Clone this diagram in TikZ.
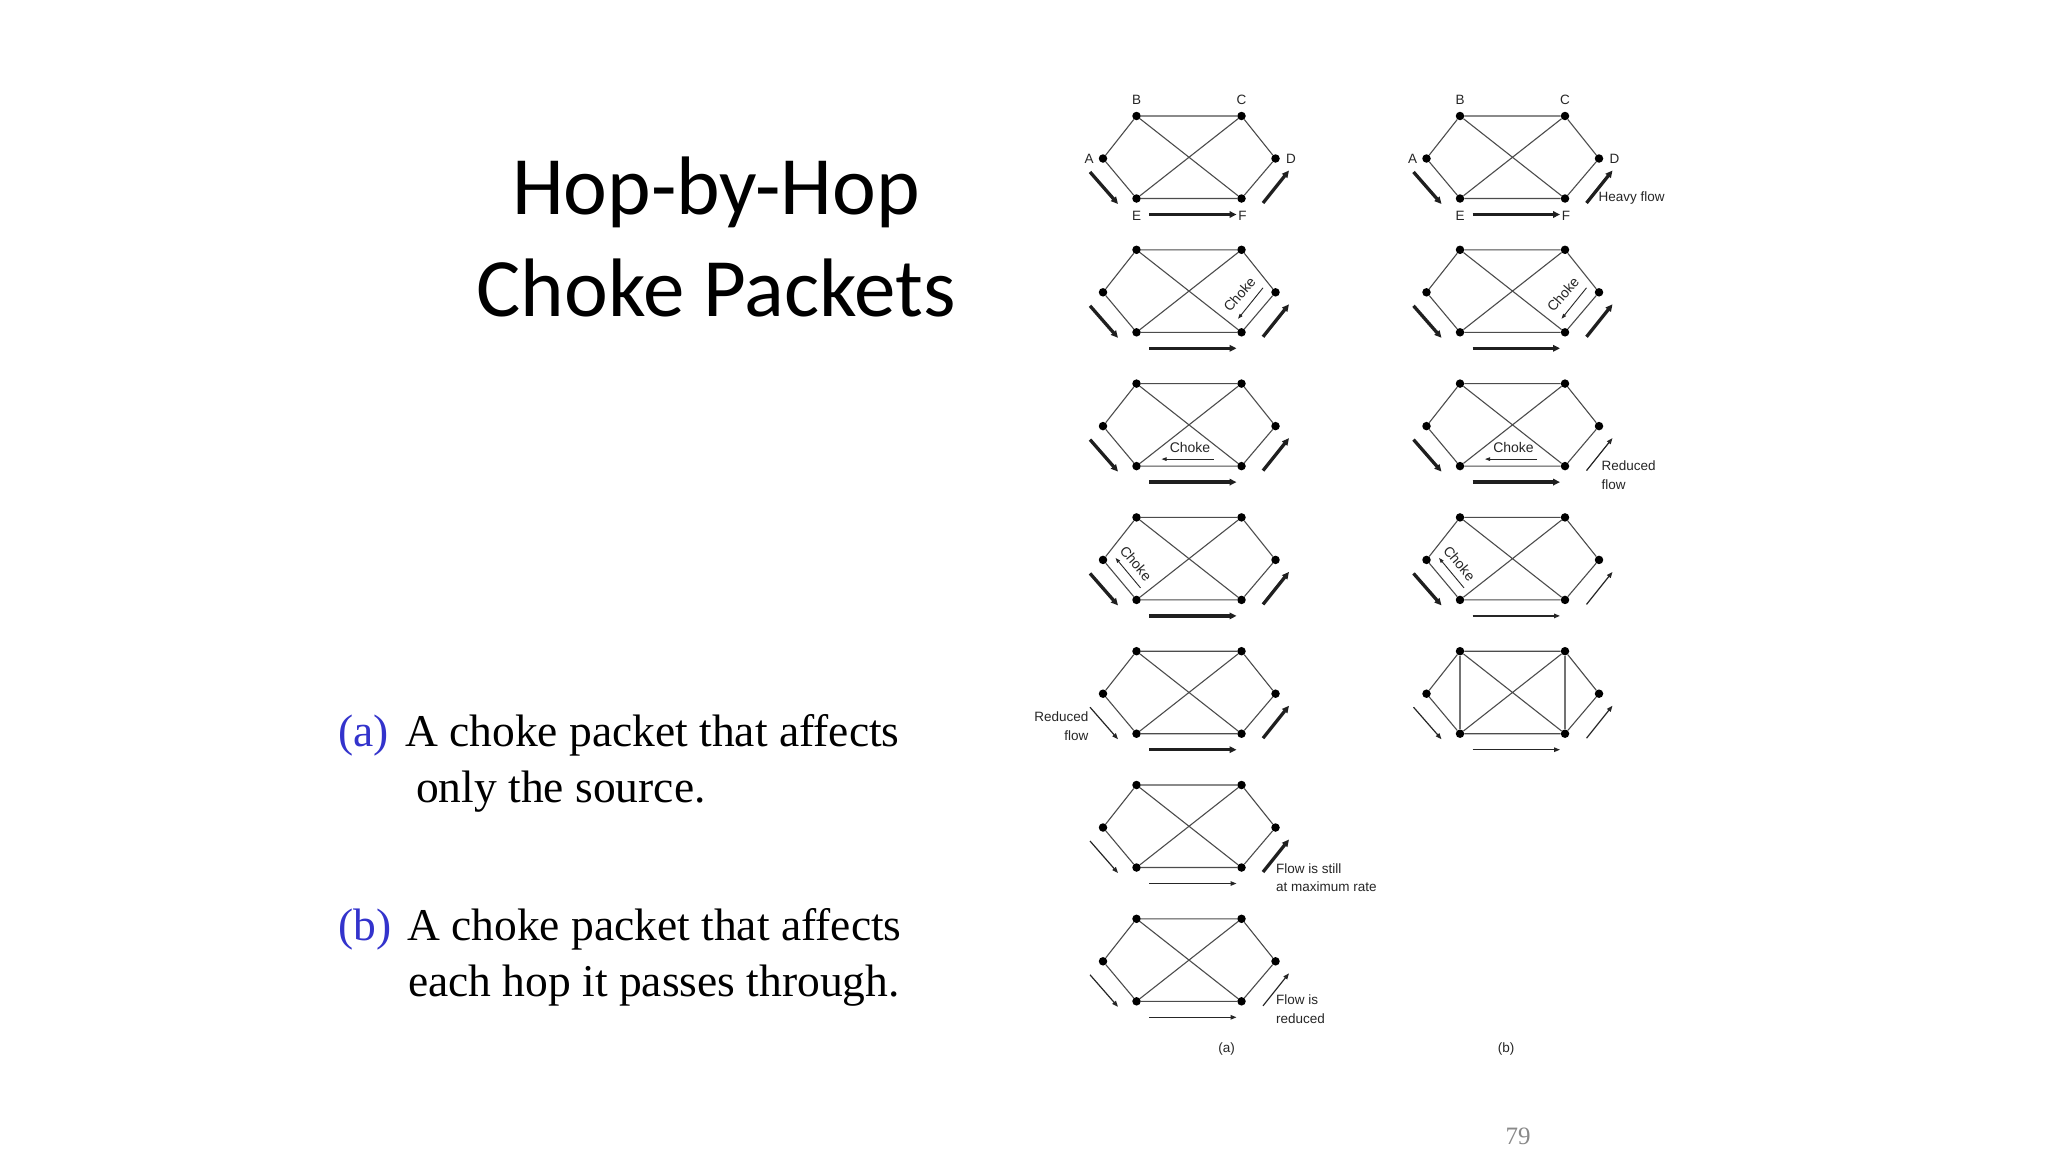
\documentclass[tikz,border=0pt]{standalone}
\usepackage{fontspec}
\setmainfont{Liberation Serif}
\newfontfamily\diagf{Liberation Sans}
\newfontfamily\titlef{Carlito}
\usetikzlibrary{arrows.meta}
\definecolor{labblue}{RGB}{51,51,204}
\definecolor{pggray}{RGB}{137,137,137}
\tikzset{
  dot/.style={circle,fill=black,inner sep=0pt,minimum size=8.5pt},
  edge/.style={draw=black!70,line width=1.1pt},
  fthick/.style={line width=3.3pt,-{Stealth[length=7pt,width=6.5pt,inset=0pt]},black!88},
  fthin/.style={line width=1.2pt,-{Stealth[length=6pt,width=4.5pt,inset=0pt]},black!85},
  carr/.style={line width=0.9pt,black!85,-{Stealth[length=5pt,width=3.5pt,inset=0pt]}},
  dlab/.style={font=\diagf\fontsize{13.5}{18.4}\selectfont,inner sep=0pt,text=black!85},
  chk/.style={font=\diagf\fontsize{14}{16}\selectfont,inner sep=0pt,text=black!85},
  ttl/.style={font=\titlef\fontsize{83}{98}\selectfont,inner sep=0pt,anchor=base},
  txt/.style={font=\fontsize{45.5}{56}\selectfont,inner sep=0pt,anchor=base west}
}
% network: prefix, x of B, y of B
\newcommand{\netw}[3]{%
  \node[dot] (#1B) at (#2,#3) {};
  \node[dot] (#1C) at ({#2+105},#3) {};
  \node[dot] (#1A) at ({#2-33.5},{#3+42.5}) {};
  \node[dot] (#1D) at ({#2+139},{#3+42.5}) {};
  \node[dot] (#1E) at (#2,{#3+82.5}) {};
  \node[dot] (#1F) at ({#2+105},{#3+82.5}) {};
  \draw[edge] (#1A)--(#1B) (#1B)--(#1C) (#1C)--(#1D) (#1D)--(#1F) (#1F)--(#1E) (#1E)--(#1A) (#1B)--(#1F) (#1C)--(#1E);
  \coordinate (#1l1) at ({#2-46.5},{#3+56});
  \coordinate (#1l2) at ({#2-18.5},{#3+88});
  \coordinate (#1r1) at ({#2+126.5},{#3+87});
  \coordinate (#1r2) at ({#2+152.5},{#3+54.5});
  \coordinate (#1b1) at ({#2+12.5},{#3+98.5});
  \coordinate (#1b2) at ({#2+100},{#3+98.5});
}
% flows: prefix, left style, right style, bottom style
\newcommand{\flows}[4]{%
  \draw[#2] (#1l1)--(#1l2);
  \draw[#3] (#1r1)--(#1r2);
  \draw[#4] (#1b1)--(#1b2);
}
% node letters
\newcommand{\netlabels}[3]{%
  \node[dlab] (#1Bl) at (#2,{#3-16}) {B};
  \node[dlab] (#1Cl) at ({#2+105},{#3-16}) {C};
  \node[dlab] (#1Al) at ({#2-47.5},{#3+43}) {A};
  \node[dlab] (#1Dl) at ({#2+154.5},{#3+43}) {D};
  \node[dlab] (#1El) at (#2,{#3+100}) {E};
  \node[dlab] (#1Fl) at ({#2+106},{#3+100}) {F};
}
% choke packet near D-F
\newcommand{\chokeDF}[3]{%
  \node[chk,rotate=49.4] (#1ch) at ({#2+103},{#3+44.5}) {Choke};
  \coordinate (#1c1) at ({#2+126.5},{#3+38});
  \coordinate (#1c2) at ({#2+101.5},{#3+69});
  \draw[carr] (#1c1)--(#1c2);
}
% choke packet near E-F
\newcommand{\chokeEF}[3]{%
  \node[chk] (#1ch) at ({#2+53.5},{#3+64}) {Choke};
  \coordinate (#1c1) at ({#2+77},{#3+75.5});
  \coordinate (#1c2) at ({#2+25},{#3+75.5});
  \draw[carr] (#1c1)--(#1c2);
}
% choke packet near A-E
\newcommand{\chokeAE}[3]{%
  \node[chk,rotate=-50] (#1ch) at ({#2-0.5},{#3+46}) {Choke};
  \coordinate (#1c1) at ({#2+4},{#3+70.5});
  \coordinate (#1c2) at ({#2-21},{#3+40.5});
  \draw[carr] (#1c1)--(#1c2);
}
\begin{document}
\begin{tikzpicture}[x=1pt,y=-1pt]
\useasboundingbox[fill=white] (0,0) rectangle (2048,1152);

% title
\node[ttl] (t1) at (716,214) {Hop-by-Hop};
\node[ttl] (t2) at (716,316) {Choke Packets};

% left text
\node[txt,text=labblue] (pa) at (338,746) {(a)};
\node[txt] (a1) at (405,746) {A choke packet that affects};
\node[txt] (a2) at (416,802) {only the source.};
\node[txt,text=labblue] (pb) at (338,940) {(b)};
\node[txt] (b1) at (407,940) {A choke packet that affects};
\node[txt] (b2) at (408,996) {each hop it passes through.};

% column (a)
\netw{a1}{1136.5}{116}
\netlabels{a1}{1136.5}{116}
\flows{a1}{fthick}{fthick}{fthick}

\netw{a2}{1136.5}{249.8}
\chokeDF{a2}{1136.5}{249.8}
\flows{a2}{fthick}{fthick}{fthick}

\netw{a3}{1136.5}{383.6}
\chokeEF{a3}{1136.5}{383.6}
\flows{a3}{fthick}{fthick}{fthick}

\netw{a4}{1136.5}{517.4}
\chokeAE{a4}{1136.5}{517.4}
\flows{a4}{fthick}{fthick}{fthick}

\netw{a5}{1136.5}{651.2}
\flows{a5}{fthin}{fthick}{fthick}
\node[dlab,align=right,anchor=east] (a5t) at (1088.5,726) {Reduced\\flow};

\netw{a6}{1136.5}{785}
\flows{a6}{fthin}{fthick}{fthin}
\node[dlab,align=left,anchor=west] (a6t) at (1276,877.5) {Flow is still\\at maximum rate};

\netw{a7}{1136.5}{918.8}
\flows{a7}{fthin}{fthin}{fthin}
\node[dlab,align=left,anchor=west] (a7t) at (1276,1009) {Flow is\\reduced};

\node[dlab] (acap) at (1226.5,1049) {(a)};

% column (b)
\netw{b1}{1460}{116}
\netlabels{b1}{1460}{116}
\flows{b1}{fthick}{fthick}{fthick}
\node[dlab,anchor=west] (b1t) at (1598.5,198.5) {Heavy flow};

\netw{b2}{1460}{249.8}
\chokeDF{b2}{1460}{249.8}
\flows{b2}{fthick}{fthick}{fthick}

\netw{b3}{1460}{383.6}
\chokeEF{b3}{1460}{383.6}
\flows{b3}{fthick}{fthin}{fthick}
\node[dlab,align=left,anchor=west] (b3t) at (1601.5,475) {Reduced\\flow};

\netw{b4}{1460}{517.4}
\chokeAE{b4}{1460}{517.4}
\flows{b4}{fthick}{fthin}{fthin}

\netw{b5}{1460}{651.2}
\draw[edge,draw=black!55,line width=1.4pt] (b5B)--(b5E) (b5C)--(b5F);
\flows{b5}{fthin}{fthin}{fthin}

\node[dlab] (bcap) at (1506,1049) {(b)};

% page number
\node[font=\fontsize{25}{30}\selectfont,text=pggray,inner sep=0pt] (pg) at (1518,1136) {79};
\end{tikzpicture}
\end{document}
